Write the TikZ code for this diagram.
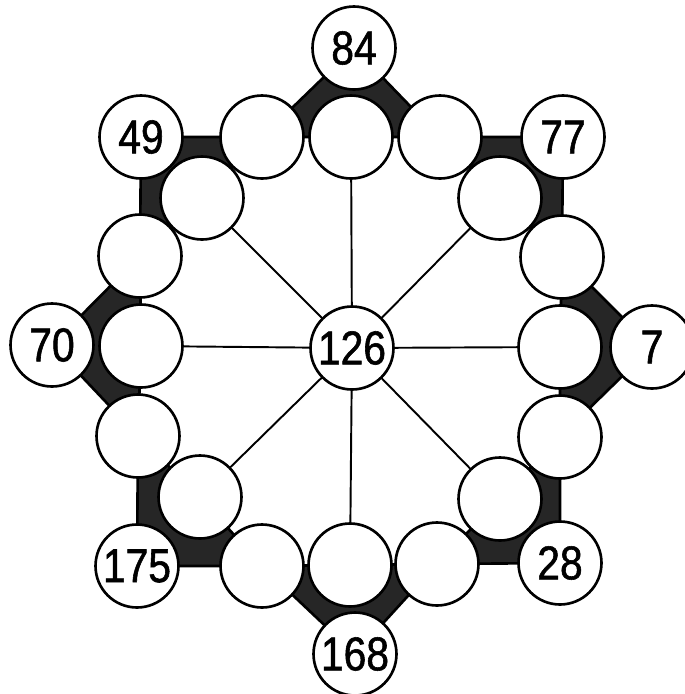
\documentclass[tikz,border=0pt]{standalone}
\usepackage{fontspec}
\setmainfont{Liberation Sans}[FakeStretch=0.86, FakeBold=1.2]
\usetikzlibrary{backgrounds}

\begin{document}
\begin{tikzpicture}[
    x=0.02cm, y=-0.02cm,
    cell/.style={
        draw, 
        circle, 
        fill=white, 
        line width=1.5pt, 
        minimum size=1.66cm, 
        inner sep=0pt,
        font=\fontsize{27}{27}\selectfont
    },
    spoke/.style={
        line width=1.1pt
    },
    band/.style={
        fill=black!85, 
        draw=black, 
        line width=1.5pt, 
        line join=round
    }
]
\useasboundingbox (0,0) rectangle (685,694);

% Centre
\node (hub) at (352,348) [cell] {126};

% Top Row
\node (t1) at (262,137) [cell] {};
\node (t2) at (351,137) [cell] {};
\node (t3) at (440,137) [cell] {};

% Diagonals
\node (d1) at (202,198) [cell] {};
\node (d2) at (500,198) [cell] {};
\node (d3) at (200,497) [cell] {};
\node (d4) at (500,499) [cell] {};

% Left and Right Columns
\node (l1) at (140,256) [cell] {};
\node (l2) at (141,346) [cell] {};
\node (l3) at (138,436) [cell] {};
\node (r1) at (562,257) [cell] {};
\node (r2) at (560,347) [cell] {};
\node (r3) at (560,437) [cell] {};

% Bottom Row
\node (b1) at (262,566) [cell] {};
\node (b2) at (350,565) [cell] {};
\node (b3) at (437,564) [cell] {};

% Outer Numbers
\node (n84)  at (354,48)  [cell] {84};
\node (n77)  at (563,137) [cell] {77};
\node (n7)   at (652,347) [cell] {7};
\node (n28)  at (560,563) [cell] {28};
\node (n168) at (355,654) [cell] {168};
\node (n175) at (137,566) [cell] {175};
\node (n70)  at (52,345)  [cell] {70};
\node (n49)  at (141,137) [cell] {49};

\begin{scope}[on background layer]
% Spokes
\foreach \s in {t2,d2,r2,d4,b2,d3,l2,d1}
    \draw [spoke] (hub.center) -- (\s.center);

% Dark Bands
\filldraw [band] (n49.center) -- (t1.center) -- (d1.center) -- (l1.center) -- cycle;
\filldraw [band] (n84.center) -- (t1.center) -- (t2.center) -- (t3.center) -- cycle;
\filldraw [band] (n77.center) -- (t3.center) -- (d2.center) -- (r1.center) -- cycle;
\filldraw [band] (n7.center) -- (r1.center) -- (r2.center) -- (r3.center) -- cycle;
\filldraw [band] (n28.center) -- (r3.center) -- (d4.center) -- (b3.center) -- cycle;
\filldraw [band] (n168.center) -- (b3.center) -- (b2.center) -- (b1.center) -- cycle;
\filldraw [band] (n175.center) -- (b1.center) -- (d3.center) -- (l3.center) -- cycle;
\filldraw [band] (n70.center) -- (l3.center) -- (l2.center) -- (l1.center) -- cycle;
\end{scope}

\end{tikzpicture}
\end{document}
